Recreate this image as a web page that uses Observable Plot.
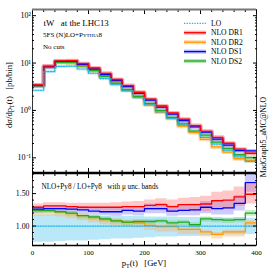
<!DOCTYPE html>
<html><head><meta charset="utf-8">
<script src="https://cdn.jsdelivr.net/npm/d3@7"></script>
<script src="https://cdn.jsdelivr.net/npm/@observablehq/plot@0.6"></script>
<style>
html,body{margin:0;padding:0;background:#fff;}
#chart{position:relative;width:270px;height:270px;overflow:hidden;background:#fff;}
#chart svg{position:absolute;left:0;}
</style></head><body><div id="chart"></div>
<script>
// ---- data ----
const binLow = [0,20,40,60,80,100,120,140,160,180,200,220,240,260,280,300,320,340,360,380];
const binHighEnd = 400;
const seriesNames = ["LO","NLO DR1","NLO DR2","NLO DS1","NLO DS2"];
// dσ/dpT [pb/bin]
const lo  = [2.67,6.6,8.5,8.6,7.5,6.1,4.7,3.5,2.58,1.86,1.31,0.93,0.68,0.49,0.36,0.27,0.195,0.145,0.105,0.084];
const dr1 = [3.44,8.65,11.1,11.2,9.7,7.9,6.06,4.5,3.35,2.42,1.73,1.24,0.884,0.652,0.479,0.362,0.271,0.203,0.152,0.125];
const dr2 = [3.28,8.12,10.4,10.2,8.7,6.89,5.17,3.78,2.73,1.95,1.32,0.92,0.673,0.466,0.342,0.246,0.170,0.132,0.0956,0.0882];
const ds1 = [3.36,8.38,10.8,10.8,9.38,7.5,5.73,4.27,3.2,2.29,1.66,1.18,0.836,0.608,0.45,0.348,0.248,0.186,0.142,0.140];
const ds2 = [3.31,8.18,10.4,10.3,8.7,6.95,5.22,3.78,2.73,1.99,1.40,1.00,0.714,0.519,0.367,0.30,0.215,0.158,0.116,0.101];
// ratio NLO/LO with scale-uncertainty bands
const rLo    = [1,1,1,1,1,1,1,1,1,1,1,1,1,1,1,1,1,1,1,1];
const rLoLow = [0.75,0.75,0.76,0.77,0.77,0.78,0.79,0.80,0.80,0.81,0.82,0.83,0.83,0.84,0.84,0.85,0.85,0.86,0.86,0.87];
const rLoHigh= [1.17,1.17,1.17,1.16,1.16,1.16,1.15,1.15,1.15,1.15,1.14,1.14,1.14,1.13,1.13,1.13,1.12,1.12,1.12,1.12];
const rDr1    = [1.29,1.31,1.31,1.30,1.29,1.29,1.29,1.29,1.30,1.30,1.32,1.33,1.30,1.33,1.33,1.34,1.39,1.40,1.45,1.49];
const rDr1Low = [1.25,1.26,1.26,1.25,1.24,1.24,1.23,1.23,1.23,1.23,1.24,1.24,1.21,1.23,1.22,1.22,1.26,1.26,1.30,1.34];
const rDr1High= [1.34,1.36,1.36,1.35,1.35,1.35,1.35,1.36,1.37,1.38,1.40,1.42,1.40,1.43,1.44,1.46,1.52,1.54,1.60,1.64];
const rDs1    = [1.26,1.27,1.27,1.26,1.25,1.23,1.22,1.22,1.24,1.23,1.27,1.27,1.23,1.24,1.25,1.29,1.27,1.28,1.35,1.67];
const rDs1Low = [1.20,1.21,1.21,1.20,1.19,1.17,1.16,1.15,1.17,1.16,1.19,1.19,1.15,1.16,1.16,1.19,1.17,1.17,1.23,1.52];
const rDs1High= [1.30,1.31,1.31,1.30,1.30,1.28,1.28,1.28,1.30,1.30,1.34,1.35,1.31,1.32,1.34,1.38,1.37,1.39,1.47,1.80];
const rDr2    = [1.23,1.23,1.22,1.19,1.16,1.13,1.10,1.08,1.06,1.05,1.01,0.99,0.99,0.95,0.95,0.91,0.87,0.91,0.91,1.05];
const rDr2Low = [1.15,1.15,1.14,1.11,1.08,1.05,1.02,1.00,0.98,0.97,0.93,0.91,0.91,0.87,0.87,0.83,0.80,0.83,0.83,0.97];
const rDr2High= [1.26,1.26,1.25,1.22,1.19,1.16,1.13,1.11,1.09,1.08,1.04,1.02,1.02,0.98,0.98,0.94,0.90,0.94,0.94,1.08];
const rDs2    = [1.24,1.24,1.22,1.20,1.16,1.14,1.11,1.08,1.06,1.07,1.07,1.08,1.05,1.06,1.02,1.11,1.10,1.09,1.10,1.20];
const rDs2Low = [1.19,1.19,1.17,1.15,1.11,1.09,1.06,1.03,1.01,1.02,1.02,1.03,1.00,1.01,0.97,1.06,1.05,1.04,1.05,1.15];
const rDs2High= [1.27,1.27,1.25,1.23,1.19,1.17,1.14,1.11,1.09,1.10,1.10,1.11,1.08,1.09,1.05,1.14,1.13,1.12,1.13,1.24];
// ticks
const xMajor = [0,100,200,300,400];
const xMinor = [20,40,60,80,120,140,160,180,220,240,260,280,320,340,360,380];
const yLogMajor = [0.1,1,10,100];
const yLogLabels = ["10\u207B\u00B9","10\u2070","10\u00B9","10\u00B2"];
const yLogMinor = [0.05,0.06,0.07,0.08,0.09,0.2,0.3,0.4,0.5,0.6,0.7,0.8,0.9,2,3,4,5,6,7,8,9,20,30,40,50,60,70,80,90];
const rMajor = [1.0,1.5];
const rMinor = [0.8,0.9,1.1,1.2,1.3,1.4,1.6,1.7,1.8];

// ---- styling ----
const colors = {"LO":"#19b4e8","NLO DR1":"#ff0000","NLO DR2":"#ff9900","NLO DS1":"#0000ff","NLO DS2":"#22a822"};
const halo   = {"LO":"#8fd9f2","NLO DR1":"#ff6b6b","NLO DR2":"#ffbb66","NLO DS1":"#8080ff","NLO DS2":"#77d077"};
const FONT = "Liberation Serif, Times New Roman, serif";

function steps(v){ return binLow.map((x,i)=>({x, y:v[i]})).concat([{x:binHighEnd, y:v[v.length-1]}]); }
function bandSteps(lo,hi){ return binLow.map((x,i)=>({x, y1:lo[i], y2:hi[i]})).concat([{x:binHighEnd, y1:lo[lo.length-1], y2:hi[hi.length-1]}]); }

const topVals = {"LO":lo,"NLO DR1":dr1,"NLO DR2":dr2,"NLO DS1":ds1,"NLO DS2":ds2};
const drawOrder = ["NLO DR2","NLO DS2","NLO DS1","NLO DR1"];
const yTop = [0.049,135];
const yRat = [0.70,1.81];

function tickAxes(axisFn, anchors, major, minor){
  const out = [];
  for (const a of anchors){
    out.push(axisFn({anchor:a, ticks:major, tickSize:-4, tickFormat:()=>"", label:null, stroke:"black"}));
    out.push(axisFn({anchor:a, ticks:minor, tickSize:-2, tickFormat:()=>"", label:null, stroke:"black"}));
  }
  return out;
}

const chart = document.getElementById("chart");

// ---- top panel ----
const topPlot = Plot.plot({
  width:270, height:173,
  marginLeft:32, marginRight:14, marginTop:9, marginBottom:1,
  style:{fontFamily:FONT, background:"transparent", overflow:"visible"},
  x:{domain:[0,400], label:null},
  y:{type:"log", domain:yTop, label:null},
  marks:[
    Plot.line(steps(lo), {x:"x", y:"y", curve:"step-after", stroke:halo["LO"], strokeWidth:3, strokeOpacity:0.45, clip:true}),
    ...drawOrder.map(s => Plot.line(steps(topVals[s]), {x:"x", y:"y", curve:"step-after", stroke:halo[s], strokeWidth:4, strokeOpacity:0.55, clip:true})),
    ...drawOrder.map(s => Plot.line(steps(topVals[s]), {x:"x", y:"y", curve:"step-after", stroke:colors[s], strokeWidth:1.3, clip:true})),
    Plot.line(steps(lo), {x:"x", y:"y", curve:"step-after", stroke:colors["LO"], strokeWidth:1.2, strokeDasharray:"1.3,1.3", clip:true}),
    ...tickAxes(Plot.axisY, ["left","right"], yLogMajor, yLogMinor),
    ...tickAxes(Plot.axisX, ["bottom","top"], xMajor, xMinor),
    Plot.axisY({anchor:"left", ticks:yLogMajor, tickSize:0, tickPadding:1.5, tickFormat:(d)=>yLogLabels[yLogMajor.indexOf(d)], fontSize:8, label:null}),
    Plot.frame({stroke:"black", strokeWidth:0.8}),
    Plot.ruleY([yTop[1]], {stroke:"#777", strokeWidth:2}),
    Plot.ruleY([yTop[0]], {stroke:"black", strokeWidth:1.3}),
    Plot.text(["tW\u00a0\u00a0\u00a0at the LHC13"], {text:d=>d, frameAnchor:"top-left", dx:11, dy:14, textAnchor:"start", lineAnchor:"middle", fontSize:8.8}),
    Plot.text(["5FS (N)LO+Pythia8"], {text:d=>d, frameAnchor:"top-left", dx:10.5, dy:25.5, textAnchor:"start", lineAnchor:"middle", fontSize:7, fontVariant:"small-caps"}),
    Plot.text(["No cuts"], {text:d=>d, frameAnchor:"top-left", dx:10.5, dy:37.5, textAnchor:"start", lineAnchor:"middle", fontSize:7})
  ]
});
topPlot.style.top = "0px";
chart.appendChild(topPlot);

// legend
{
  const svg = d3.select(topPlot);
  const g = svg.append("g").attr("font-family", FONT).attr("font-size", 7.6).attr("text-anchor","start");
  const rows = [23.3, 32.7, 42.2, 51.6, 61];
  seriesNames.forEach((s,i)=>{
    const y = rows[i];
    if (s !== "LO") {
      g.append("line").attr("x1",184).attr("x2",206).attr("y1",y).attr("y2",y)
        .attr("stroke",halo[s]).attr("stroke-width",4).attr("stroke-opacity",0.55);
    }
    g.append("line").attr("x1",184).attr("x2",206).attr("y1",y).attr("y2",y)
      .attr("stroke",colors[s]).attr("stroke-width", s==="LO"?1.2:1.3)
      .attr("stroke-dasharray", s==="LO"?"1.3,1.3":null);
    g.append("text").attr("x",211).attr("y",y).attr("dy","0.35em").attr("text-anchor","start").text(s);
  });
}

// ---- ratio panel ----
const ratPlot = Plot.plot({
  width:270, height:98,
  marginLeft:32, marginRight:14, marginTop:1, marginBottom:25,
  style:{fontFamily:FONT, background:"transparent", overflow:"visible"},
  x:{domain:[0,400], label:null},
  y:{domain:yRat, label:null},
  marks:[
    Plot.areaY(bandSteps(rLoLow,rLoHigh), {x:"x", y1:"y1", y2:"y2", curve:"step-after", fill:"#5cc8ee", fillOpacity:0.42, clip:true}),
    Plot.areaY(bandSteps(rDr2Low,rDr2High), {x:"x", y1:"y1", y2:"y2", curve:"step-after", fill:"#ffb066", fillOpacity:0.42, clip:true}),
    Plot.areaY(bandSteps(rDs2Low,rDs2High), {x:"x", y1:"y1", y2:"y2", curve:"step-after", fill:"#66cc66", fillOpacity:0.35, clip:true}),
    Plot.areaY(bandSteps(rDs1Low,rDs1High), {x:"x", y1:"y1", y2:"y2", curve:"step-after", fill:"#8080ff", fillOpacity:0.4, clip:true}),
    Plot.areaY(bandSteps(rDr1Low,rDr1High), {x:"x", y1:"y1", y2:"y2", curve:"step-after", fill:"#ff6b6b", fillOpacity:0.38, clip:true}),
    Plot.line(steps(rDr2), {x:"x", y:"y", curve:"step-after", stroke:colors["NLO DR2"], strokeWidth:1.3, clip:true}),
    Plot.line(steps(rDs2), {x:"x", y:"y", curve:"step-after", stroke:colors["NLO DS2"], strokeWidth:1.3, clip:true}),
    Plot.line(steps(rDs1), {x:"x", y:"y", curve:"step-after", stroke:colors["NLO DS1"], strokeWidth:1.3, clip:true}),
    Plot.line(steps(rDr1), {x:"x", y:"y", curve:"step-after", stroke:colors["NLO DR1"], strokeWidth:1.3, clip:true}),
    Plot.line(steps(rLo), {x:"x", y:"y", curve:"step-after", stroke:colors["LO"], strokeWidth:1.2, strokeDasharray:"1.3,1.3", clip:true}),
    ...tickAxes(Plot.axisY, ["left","right"], rMajor, rMinor),
    ...tickAxes(Plot.axisX, ["bottom","top"], xMajor, xMinor),
    Plot.axisY({anchor:"left", ticks:rMajor, tickSize:0, tickPadding:3, tickFormat:d3.format(".2f"), fontSize:7.8, label:null}),
    Plot.axisX({anchor:"bottom", ticks:xMajor, tickSize:0, tickPadding:5, tickFormat:d3.format("d"), fontSize:7, label:null}),
    Plot.frame({stroke:"black", strokeWidth:0.8}),
    Plot.ruleY([yRat[1]], {stroke:"black", strokeWidth:1.3}),
    Plot.ruleY([yRat[0]], {stroke:"black", strokeWidth:1.5}),
    Plot.text(["NLO+Py8 / LO+Py8\u00a0\u00a0\u00a0with \u03bc unc. bands"], {text:d=>d, frameAnchor:"top-left", dx:9, dy:13, textAnchor:"start", lineAnchor:"middle", fontSize:7.2})
  ]
});
ratPlot.style.top = "172px";
chart.appendChild(ratPlot);

// ---- overlay titles ----
{
  const svg = d3.select(chart).append("svg").attr("width",270).attr("height",270)
    .style("top","0px").style("pointer-events","none")
    .attr("font-family", FONT);
  const yt = svg.append("text").attr("transform","translate(12,95) rotate(-90)")
    .attr("text-anchor","middle").attr("font-size",8.6);
  yt.append("tspan").text("d\u03c3/dp");
  yt.append("tspan").attr("font-size",6).attr("dy",1.8).text("T");
  yt.append("tspan").attr("dy",-1.8).text("(t)\u00a0\u00a0\u00a0[pb/bin]");
  const xt = svg.append("text").attr("x",144).attr("y",266)
    .attr("text-anchor","middle").attr("font-size",8.6);
  xt.append("tspan").text("p");
  xt.append("tspan").attr("font-size",6).attr("dy",1.8).text("T");
  xt.append("tspan").attr("dy",-1.8).text("(t)\u00a0\u00a0\u00a0[GeV]");
  svg.append("text").attr("transform","translate(266,137) rotate(-90)")
    .attr("text-anchor","middle").attr("font-size",7.8).text("MadGraph5_aMC@NLO");
}
</script></body></html>
